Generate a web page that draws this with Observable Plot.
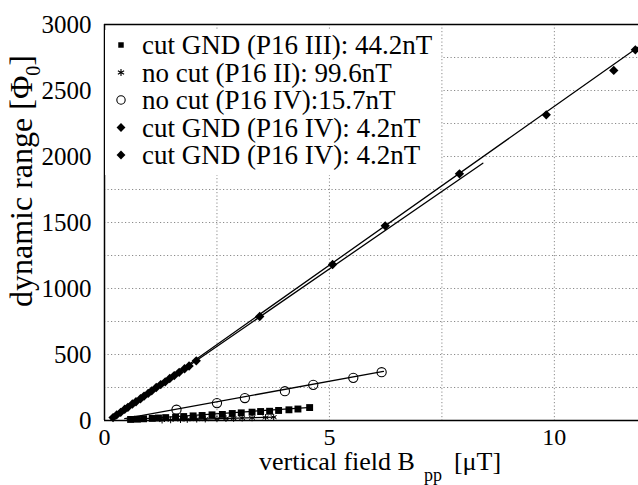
<!DOCTYPE html>
<html>
<head>
<meta charset="utf-8">
<script src="https://cdn.jsdelivr.net/npm/d3@7"></script>
<script src="https://cdn.jsdelivr.net/npm/@observablehq/plot@0.6"></script>
<style>
  html, body { margin: 0; padding: 0; background: white; }
  svg { display: block; }
  svg, svg text { font-family: "Liberation Serif", "Times New Roman", serif !important; }
</style>
</head>
<body>
<div id="chart"></div>
<script>
// ---- data ----
const xTicks = [0, 5, 10];
const yTicks = [0, 500, 1000, 1500, 2000, 2500, 3000];
const xGrid = [2.5, 5, 7.5, 10];
const yGrid = [250, 500, 750, 1000, 1250, 1500, 1750, 2000, 2250, 2500, 2750];

// cut GND (P16 III): filled squares
const sqX = [0.58, 0.73, 0.87, 1.06, 1.2, 1.36, 1.58, 1.76, 1.97, 2.17, 2.39, 2.62, 2.84, 3.04, 3.28, 3.47, 3.67, 3.87, 4.1, 4.3, 4.56];
const sqY = [8, 10, 13, 16, 19, 22, 26, 30, 35, 38, 43, 46, 53, 58, 63, 68, 70, 76, 81, 87, 98];
const sqFitX = [0.5, 4.6];
const sqFitY = [5, 100];

// no cut (P16 II): asterisks
const astX = [1.28, 1.47, 1.69, 1.84, 2.05, 2.24, 2.5, 2.7, 2.87, 3.06, 3.28, 3.58, 3.76];
const astY = [3, 5, 7, 8, 10, 11, 13, 15, 16, 18, 20, 23, 25];
const astFitX = [1.2, 3.8];
const astFitY = [2, 26];

// no cut (P16 IV): open circles
const circX = [1.6, 2.5, 3.12, 4.01, 4.64, 5.53, 6.16];
const circY = [82, 132, 170, 222, 270, 323, 366];
const circFitX = [0.45, 6.2];
const circFitY = [15, 372];

// cut GND (P16 IV): diamonds, sparse points
const diaX = [3.45, 5.07, 6.24, 7.89, 9.82, 11.32, 11.8];
const diaY = [788, 1182, 1475, 1869, 2316, 2652, 2808];
const diaFitX = [0.15, 11.87];
const diaFitY = [10, 2830];

// cut GND (P16 IV): diamonds, dense points
const dia2X = [0.19, 0.27, 0.36, 0.45, 0.52, 0.62, 0.70, 0.80, 0.88, 0.97, 1.05, 1.15, 1.25, 1.35, 1.45, 1.55, 1.66, 1.78, 1.88, 2.04];
const dia2Y = [22, 42, 62, 85, 100, 125, 142, 165, 185, 205, 225, 250, 272, 293, 318, 340, 365, 392, 413, 452];
const dia2FitX = [0.15, 8.41];
const dia2FitY = [10, 1949];

const legendLabels = [
  "cut GND (P16 III): 44.2nT",
  "no cut (P16 II): 99.6nT",
  "no cut (P16 IV):15.7nT",
  "cut GND (P16 IV): 4.2nT",
  "cut GND (P16 IV): 4.2nT"
];

// ---- helpers ----
const FONT = "'Liberation Serif', 'Times New Roman', serif";
const pts = (xs, ys) => xs.map((x, i) => ({x, y: ys[i]}));
const gridStyle = {stroke: "#8a8a8a", strokeWidth: 1, strokeDasharray: "1.2,2.3"};
const lineStyle = {x: "x", y: "y", stroke: "black", strokeWidth: 1.3};

const plot = Plot.plot({
  width: 638,
  height: 485,
  marginLeft: 104,
  marginRight: 0,
  marginTop: 24,
  marginBottom: 65,
  style: {fontFamily: FONT, fontSize: "25px", color: "black", background: "white", overflow: "visible"},
  x: {domain: [0, 11.87]},
  y: {domain: [0, 3000]},
  marks: [
    Plot.ruleX(xGrid, gridStyle),
    Plot.ruleY(yGrid, gridStyle),
    Plot.axisX({ticks: xTicks, tickSize: 0, tickPadding: 7, label: null, fontSize: 24, tickFormat: d => String(d)}),
    Plot.axisY({ticks: yTicks, tickSize: 0, tickPadding: 13, label: null, fontSize: 25, tickFormat: d => String(d)}),
    Plot.line(pts(sqFitX, sqFitY), lineStyle),
    Plot.line(pts(astFitX, astFitY), lineStyle),
    Plot.line(pts(circFitX, circFitY), lineStyle),
    Plot.line(pts(diaFitX, diaFitY), lineStyle),
    Plot.line(pts(dia2FitX, dia2FitY), lineStyle),
    Plot.dot(pts(sqX, sqY), {x: "x", y: "y", symbol: "square", r: 3.9, fill: "black"}),
    Plot.dot(pts(astX, astY), {x: "x", y: "y", symbol: "asterisk", r: 3.2, stroke: "black", strokeWidth: 1}),
    Plot.dot(pts(circX, circY), {x: "x", y: "y", symbol: "circle", r: 4.6, stroke: "black", fill: "none", strokeWidth: 1.1}),
    Plot.dot(pts(dia2X, dia2Y), {x: "x", y: "y", symbol: "diamond2", r: 4.2, fill: "black"}),
    Plot.dot(pts(diaX, diaY), {x: "x", y: "y", symbol: "diamond2", r: 4.2, fill: "black"}),
    Plot.ruleX([0], {stroke: "black", strokeWidth: 1.5}),
    Plot.ruleY([0], {stroke: "black", strokeWidth: 1.5}),
    Plot.ruleY([3000], {stroke: "black", strokeWidth: 1.3})
  ]
});

document.getElementById("chart").appendChild(plot);

// ---- legend and axis labels ----
const svg = d3.select(plot).style("font-family", FONT);
const lg = svg.append("g").attr("text-anchor", "start");
lg.append("rect").attr("x", 105).attr("y", 30).attr("width", 336).attr("height", 145).attr("fill", "white");
const legendSymbols = [
  {type: d3.symbolSquare, size: 30, fill: "black", stroke: "none"},
  {type: d3.symbolAsterisk, size: 36, fill: "none", stroke: "black"},
  {type: d3.symbolCircle, size: 55, fill: "none", stroke: "black"},
  {type: d3.symbolDiamond2, size: 50, fill: "black", stroke: "none"},
  {type: d3.symbolDiamond2, size: 50, fill: "black", stroke: "none"}
];
const rowY = [45, 72.5, 100, 127.5, 155];
legendLabels.forEach((label, i) => {
  const s = legendSymbols[i];
  lg.append("path")
    .attr("d", d3.symbol().type(s.type).size(s.size)())
    .attr("transform", `translate(121,${rowY[i]})`)
    .attr("fill", s.fill).attr("stroke", s.stroke).attr("stroke-width", 1.1);
  lg.append("text")
    .attr("x", 142).attr("y", rowY[i] + 9)
    .attr("text-anchor", "start")
    .attr("font-family", FONT)
    .attr("font-size", 27)
    .attr("fill", "black")
    .text(label);
});

// x label
const xl = svg.append("text")
  .attr("x", 259).attr("y", 470)
  .attr("text-anchor", "start")
  .attr("font-family", FONT)
  .attr("font-size", 26).attr("fill", "black");
xl.append("tspan").text("vertical field B");
xl.append("tspan").attr("dx", 9).attr("dy", 11).attr("font-size", 18).text("pp");
xl.append("tspan").attr("dx", 12).attr("dy", -11).text("[\u03BCT]");

// y label
const yl = svg.append("text")
  .attr("transform", "translate(32,181) rotate(-90)")
  .attr("text-anchor", "middle")
  .attr("font-family", FONT)
  .attr("font-size", 32).attr("fill", "black");
yl.append("tspan").text("dynamic range [\u03A6");
yl.append("tspan").attr("dy", 8).attr("font-size", 20).text("0");
yl.append("tspan").attr("dy", -8).text("]");
</script>
</body>
</html>
